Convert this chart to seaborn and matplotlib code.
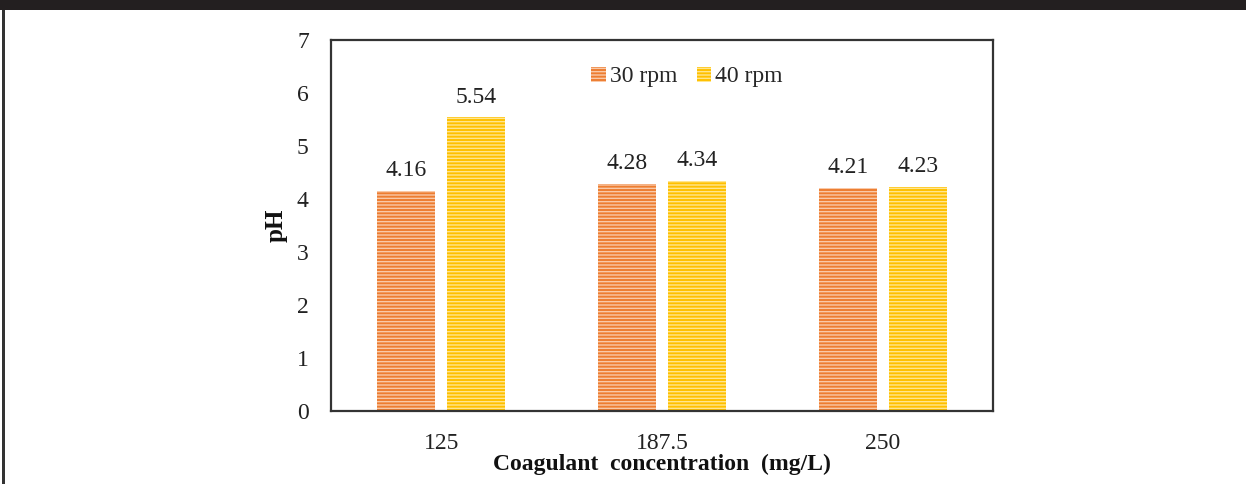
import matplotlib
matplotlib.use("Agg")
import matplotlib.pyplot as plt
import seaborn as sns
import pandas as pd
from matplotlib.patches import Rectangle, Patch

categories = ["125", "187.5", "250"]
series_names = ["30 rpm", "40 rpm"]
ph_30 = [4.16, 4.28, 4.21]
ph_40 = [5.54, 4.34, 4.23]
y_ticks = [0, 1, 2, 3, 4, 5, 6, 7]

df = pd.DataFrame({
    "conc": categories * 2,
    "speed": [series_names[0]] * 3 + [series_names[1]] * 3,
    "pH": ph_30 + ph_40,
})

sns.set_style("white")
plt.rcParams["font.family"] = ["Liberation Serif", "DejaVu Serif"]
plt.rcParams["hatch.linewidth"] = 1.0

colors = {"30 rpm": "#ED7D31", "40 rpm": "#FFC000"}
hatch_cols = {"30 rpm": "#F9C9A8", "40 rpm": "#FFE68F"}

fig = plt.figure(figsize=(12.46, 4.84), dpi=100)
ax = fig.add_axes([331 / 1246, 73 / 484, 662 / 1246, 371 / 484])

sns.barplot(data=df, x="conc", y="pH", hue="speed", order=categories,
            hue_order=series_names, palette=colors, width=0.634, gap=0.17,
            errorbar=None, ax=ax, legend=False, linewidth=0, saturation=1)

for i, cont in enumerate(ax.containers):
    name = series_names[i]
    for bar in cont:
        bar.set_hatch("-----")
        bar.set_edgecolor(hatch_cols[name])
        bar.set_linewidth(0)
    ax.bar_label(cont, labels=[f"{v:.2f}" for v in cont.datavalues],
                 padding=7, fontsize=17, color="#222222")

ax.set_xlim(-0.5, 2.5)
ax.set_ylim(0, 7)
ax.set_yticks(y_ticks)
ax.tick_params(axis="both", length=0, labelsize=17, colors="#222222")
ax.tick_params(axis="y", pad=16)
ax.tick_params(axis="x", pad=16)
for s in ax.spines.values():
    s.set_visible(True)
    s.set_color("#333333")
    s.set_linewidth(1.6)

ax.set_xlabel("Coagulant  concentration  (mg/L)", fontsize=17, fontweight="bold",
              labelpad=0, color="#111111")
ax.set_ylabel("pH", fontsize=18, fontweight="bold", labelpad=7, color="#111111")

handles = [Patch(facecolor=colors[n], edgecolor=hatch_cols[n], hatch="-----",
                 linewidth=0, label=n) for n in series_names]
leg = ax.legend(handles=handles, loc="upper center", bbox_to_anchor=(0.538, 0.986),
                ncol=2, frameon=False, fontsize=17, handlelength=0.6,
                handleheight=0.6, handletextpad=0.2, columnspacing=0.8)

# screenshot frame: dark band on top and border on left
fig.patches.append(Rectangle((0, 1 - 10 / 484), 1, 10 / 484, transform=fig.transFigure,
                             facecolor="#231F20", edgecolor="none", zorder=10))
fig.patches.append(Rectangle((2 / 1246, 0), 3 / 1246, 1 - 10 / 484, transform=fig.transFigure,
                             facecolor="#333333", edgecolor="none", zorder=10))

fig.savefig("out.png", dpi=100)
